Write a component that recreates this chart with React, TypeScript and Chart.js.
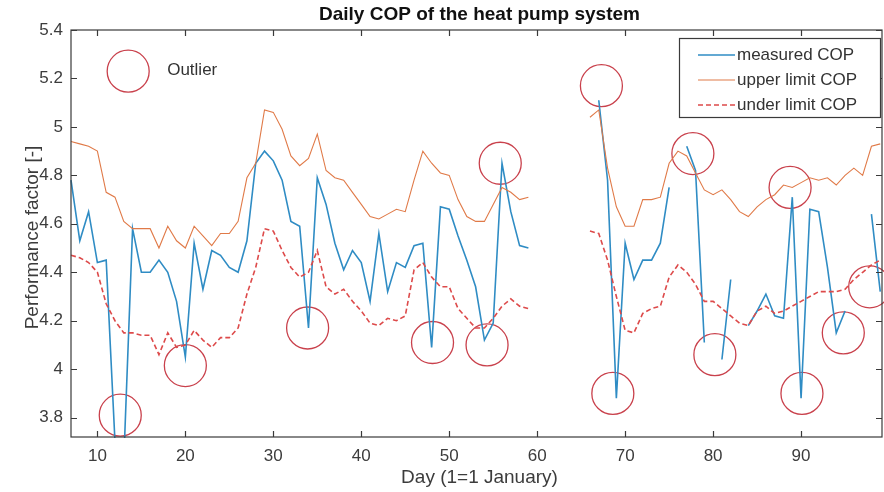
import { useEffect, useRef } from "react";
import { Chart, registerables } from "chart.js";

Chart.register(...registerables);

const days = [
  7, 8, 9, 10, 11, 12, 13, 14, 15, 16, 17, 18, 19, 20, 21, 22, 23, 24, 25, 26,
  27, 28, 29, 30, 31, 32, 33, 34, 35, 36, 37, 38, 39, 40, 41, 42, 43, 44, 45, 46,
  47, 48, 49, 50, 51, 52, 53, 54, 55, 56, 57, 58, 59, 60, 61, 62, 63, 64, 65, 66,
  67, 68, 69, 70, 71, 72, 73, 74, 75, 76, 77, 78, 79, 80, 81, 82, 83, 84, 85, 86,
  87, 88, 89, 90, 91, 92, 93, 94, 95, 96, 97, 98, 99,
];

const measuredCOP: (number | null)[] = [
  4.78, 4.53, 4.65, 4.44, 4.45, 3.7, 3.62, 4.58, 4.4, 4.4, 4.45, 4.4, 4.28, 4.05, 4.52, 4.33, 4.49, 4.47, 4.42, 4.4,
  4.53, 4.85, 4.9, 4.86, 4.78, 4.61, 4.59, 4.17, 4.79, 4.68, 4.52, 4.41, 4.49, 4.44, 4.28, 4.56, 4.32, 4.44, 4.42, 4.51,
  4.52, 4.09, 4.67, 4.66, 4.55, 4.45, 4.34, 4.12, 4.19, 4.85, 4.65, 4.51, 4.5, null, null, null, null, null, null, null,
  5.11, 4.78, 3.88, 4.52, 4.37, 4.45, 4.45, 4.52, 4.75, null, 4.92, 4.82, 4.11, null, 4.04, 4.37, null, 4.18, 4.24, 4.31,
  4.22, 4.21, 4.71, 3.88, 4.66, 4.65, 4.42, 4.15, 4.24, null, null, 4.64, 4.32,
];

const upperLimitCOP: (number | null)[] = [
  4.94, 4.93, 4.92, 4.9, 4.73, 4.71, 4.61, 4.58, 4.58, 4.58, 4.5, 4.59, 4.53, 4.5, 4.59, 4.55, 4.51, 4.56, 4.56, 4.61,
  4.79, 4.85, 5.07, 5.06, 4.99, 4.88, 4.84, 4.87, 4.97, 4.82, 4.79, 4.78, 4.73, 4.68, 4.63, 4.62, 4.64, 4.66, 4.65, 4.78,
  4.9, 4.85, 4.81, 4.8, 4.7, 4.63, 4.61, 4.61, 4.68, 4.75, 4.73, 4.7, 4.71, null, null, null, null, null, null, 5.04,
  5.07, 4.83, 4.67, 4.59, 4.59, 4.7, 4.7, 4.71, 4.85, 4.9, 4.88, 4.81, 4.74, 4.72, 4.74, 4.7, 4.65, 4.63, 4.67, 4.7,
  4.72, 4.76, 4.75, 4.77, 4.79, 4.78, 4.79, 4.76, 4.8, 4.83, 4.8, 4.92, 4.93,
];

const underLimitCOP: (number | null)[] = [
  4.47, 4.46, 4.44, 4.4, 4.27, 4.2, 4.15, 4.15, 4.14, 4.14, 4.06, 4.15, 4.09, 4.1, 4.16, 4.12, 4.09, 4.13, 4.13, 4.17,
  4.31, 4.42, 4.58, 4.57, 4.49, 4.42, 4.38, 4.4, 4.49, 4.34, 4.31, 4.33, 4.28, 4.24, 4.19, 4.18, 4.21, 4.2, 4.22, 4.41,
  4.44, 4.38, 4.34, 4.34, 4.25, 4.21, 4.17, 4.17, 4.21, 4.26, 4.29, 4.26, 4.25, null, null, null, null, null, null, 4.57,
  4.56, 4.45, 4.3, 4.16, 4.15, 4.23, 4.25, 4.26, 4.38, 4.43, 4.4, 4.35, 4.28, 4.28, 4.25, 4.22, 4.19, 4.18, 4.24, 4.26,
  4.23, 4.24, 4.26, 4.28, 4.3, 4.32, 4.32, 4.32, 4.33, 4.37, 4.4, 4.43, 4.45,
];

const outlierDays = [12.6, 20.0, 33.9, 48.1, 54.3, 55.8, 67.3, 68.6, 77.7, 80.2, 88.75, 90.1, 94.8, 97.8];
const outlierValues = [3.81, 4.015, 4.17, 4.11, 4.1, 4.85, 5.17, 3.9, 4.89, 4.06, 4.75, 3.9, 4.15, 4.34];

const outlierKeyDay = [13.5];
const outlierKeyValue = [5.23];

const xTickValues = [10, 20, 30, 40, 50, 60, 70, 80, 90];
const yTickValues = [3.8, 4.0, 4.2, 4.4, 4.6, 4.8, 5.0, 5.2, 5.4];

const TITLE = "Daily COP of the heat pump system";
const X_LABEL = "Day (1=1 January)";
const Y_LABEL = "Performance factor [-]";
const OUTLIER_LABEL = "Outlier";
const seriesNames = ["measured COP", "upper limit COP", "under limit COP"];

const BLUE = "#2f8cc4";
const ORANGE = "#e07a48";
const RED = "#dd4a4a";
const CIRCLE = "#c9414c";
const AXIS = "#3a3a3a";
const TEXT = "#3c3c3c";
const FONT = "'Liberation Sans', Arial, Helvetica, sans-serif";

export default function App() {
  const ref = useRef<HTMLCanvasElement | null>(null);

  useEffect(() => {
    const canvas = ref.current;
    if (!canvas) return;

    const toPts = (vals: (number | null)[]) => days.map((d, i) => ({ x: d, y: vals[i] }));

    const framePlugin = {
      id: "matlabFrame",
      afterDraw(chart: any) {
        const ctx = chart.ctx as CanvasRenderingContext2D;
        const a = chart.chartArea;
        const xs = chart.scales.x;
        const ys = chart.scales.y;
        ctx.save();
        // axis box
        ctx.strokeStyle = AXIS;
        ctx.lineWidth = 1.2;
        ctx.strokeRect(a.left, a.top, a.right - a.left, a.bottom - a.top);
        // inward ticks
        const tl = 6;
        ctx.beginPath();
        xTickValues.forEach((v) => {
          const px = Math.round(xs.getPixelForValue(v)) + 0.5;
          ctx.moveTo(px, a.bottom);
          ctx.lineTo(px, a.bottom - tl);
          ctx.moveTo(px, a.top);
          ctx.lineTo(px, a.top + tl);
        });
        yTickValues.forEach((v) => {
          const py = Math.round(ys.getPixelForValue(v)) + 0.5;
          ctx.moveTo(a.left, py);
          ctx.lineTo(a.left + tl, py);
          ctx.moveTo(a.right, py);
          ctx.lineTo(a.right - tl, py);
        });
        ctx.stroke();

        // title
        ctx.fillStyle = "#111";
        ctx.font = `bold 19px ${FONT}`;
        ctx.textAlign = "center";
        ctx.textBaseline = "middle";
        ctx.fillText(TITLE, (a.left + a.right) / 2 + 3, 15);

        // axis labels
        ctx.fillStyle = TEXT;
        ctx.font = `19px ${FONT}`;
        ctx.fillText(X_LABEL, (a.left + a.right) / 2 + 3, 478);
        ctx.save();
        ctx.translate(33, (a.top + a.bottom) / 2 + 4);
        ctx.rotate(-Math.PI / 2);
        ctx.fillText(Y_LABEL, 0, 0);
        ctx.restore();

        // outlier key text
        ctx.font = `17px ${FONT}`;
        ctx.textAlign = "left";
        ctx.fillStyle = "#333";
        ctx.fillText(
          OUTLIER_LABEL,
          xs.getPixelForValue(outlierKeyDay[0]) + 39,
          ys.getPixelForValue(outlierKeyValue[0]) - 1
        );

        // legend box
        const lx = 679;
        const ly = a.top + 8;
        const lw = a.right - 2 - lx;
        const lh = 79;
        ctx.fillStyle = "#ffffff";
        ctx.fillRect(lx, ly, lw, lh);
        ctx.strokeStyle = AXIS;
        ctx.lineWidth = 1.2;
        ctx.strokeRect(lx + 0.5, ly + 0.5, lw, lh);
        const rows = [
          { c: BLUE, w: 1.6, dash: [] as number[] },
          { c: ORANGE, w: 1.1, dash: [] as number[] },
          { c: RED, w: 1.6, dash: [5, 3] },
        ];
        rows.forEach((r, i) => {
          const y = ly + 17 + i * 25;
          ctx.beginPath();
          ctx.strokeStyle = r.c;
          ctx.lineWidth = r.w;
          ctx.setLineDash(r.dash);
          ctx.moveTo(698, y);
          ctx.lineTo(735, y);
          ctx.stroke();
          ctx.setLineDash([]);
          ctx.fillStyle = "#333";
          ctx.font = `17px ${FONT}`;
          ctx.textAlign = "left";
          ctx.textBaseline = "middle";
          ctx.fillText(seriesNames[i], 737, y);
        });
        ctx.restore();
      },
    };

    const chart = new Chart(canvas, {
      type: "line",
      data: {
        datasets: [
          {
            label: seriesNames[2],
            data: toPts(underLimitCOP),
            borderColor: RED,
            borderWidth: 1.6,
            borderDash: [5, 3],
            pointRadius: 0,
            spanGaps: false,
            tension: 0,
            clip: 1,
          },
          {
            label: seriesNames[1],
            data: toPts(upperLimitCOP),
            borderColor: ORANGE,
            borderWidth: 1.1,
            pointRadius: 0,
            spanGaps: false,
            tension: 0,
            clip: 1,
          },
          {
            label: seriesNames[0],
            data: toPts(measuredCOP),
            borderColor: BLUE,
            borderWidth: 1.6,
            pointRadius: 0,
            spanGaps: false,
            tension: 0,
            clip: 1,
          },
          {
            label: "Outlier",
            data: outlierDays.map((d, i) => ({ x: d, y: outlierValues[i] })),
            showLine: false,
            pointRadius: 21,
            pointStyle: "circle",
            pointBorderColor: CIRCLE,
            pointBackgroundColor: "rgba(0,0,0,0)",
            pointBorderWidth: 1.3,
            clip: false,
          },
          {
            label: "Outlier key",
            data: outlierKeyDay.map((d, i) => ({ x: d, y: outlierKeyValue[i] })),
            showLine: false,
            pointRadius: 21,
            pointStyle: "circle",
            pointBorderColor: CIRCLE,
            pointBackgroundColor: "rgba(0,0,0,0)",
            pointBorderWidth: 1.3,
            clip: false,
          },
        ] as any,
      },
      options: {
        animation: false,
        responsive: false,
        devicePixelRatio: 1,
        layout: { autoPadding: false, padding: { left: 0, right: 2, top: 30, bottom: 0 } },
        plugins: { legend: { display: false }, tooltip: { enabled: false }, title: { display: false } },
        events: [],
        scales: {
          x: {
            type: "linear",
            min: 7,
            max: 99.2,
            afterFit: (s: any) => {
              s.height = 55;
              s.paddingLeft = 0;
              s.paddingRight = 0;
            },
            afterBuildTicks: (s: any) => {
              s.ticks = xTickValues.map((v) => ({ value: v }));
            },
            grid: { display: false, drawTicks: false },
            border: { display: false },
            ticks: {
              padding: 9,
              color: TEXT,
              font: { family: FONT, size: 17 },
              maxRotation: 0,
              autoSkip: false,
              callback: (v: any) => String(v),
            },
          },
          y: {
            type: "linear",
            min: 3.72,
            max: 5.4,
            afterFit: (s: any) => {
              s.width = 71;
              s.paddingTop = 0;
              s.paddingBottom = 0;
            },
            afterBuildTicks: (s: any) => {
              s.ticks = yTickValues.map((v) => ({ value: v }));
            },
            grid: { display: false, drawTicks: false },
            border: { display: false },
            ticks: {
              padding: 8,
              color: TEXT,
              font: { family: FONT, size: 17 },
              autoSkip: false,
              callback: (v: any) => String(Number(Number(v).toFixed(1))),
            },
          },
        },
      } as any,
      plugins: [framePlugin],
    });

    return () => chart.destroy();
  }, []);

  return (
    <div style={{ position: "fixed", left: 0, top: 0, width: 884, height: 492, background: "#fff" }}>
      <canvas ref={ref} width={884} height={492} />
    </div>
  );
}
